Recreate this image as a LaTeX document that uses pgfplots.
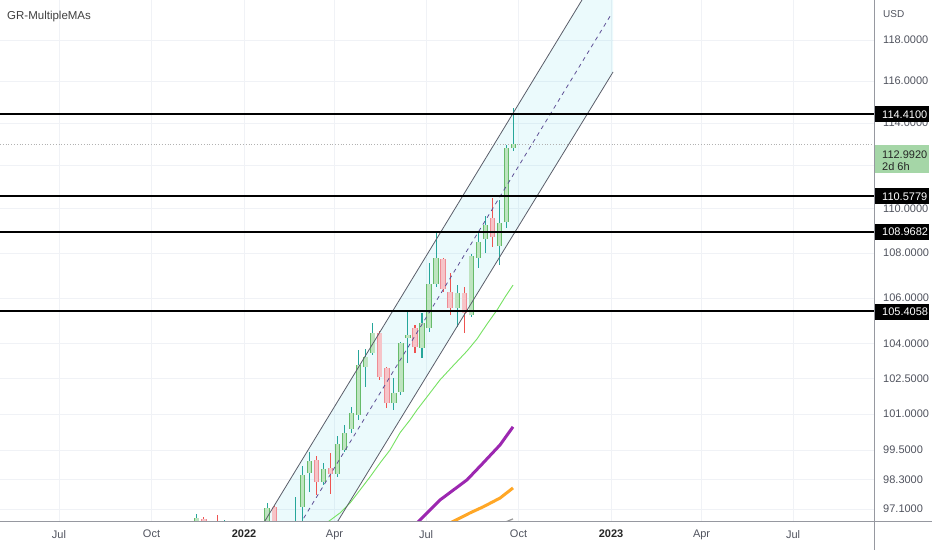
\documentclass[border=0pt]{standalone}
\usepackage{fontspec}
\setmainfont{Liberation Sans}
\usepackage{pgfplots}
\usepackage{pgfplotstable}
\pgfplotsset{compat=1.18}
\definecolor{upfill}{RGB}{190,228,192}
\definecolor{upline}{RGB}{102,187,106}
\definecolor{upwick}{RGB}{38,166,154}
\definecolor{dnfill}{RGB}{246,196,200}
\definecolor{dnline}{RGB}{239,140,148}
\definecolor{dnwick}{RGB}{239,83,80}
\definecolor{chfill}{RGB}{0,200,225}
\definecolor{chline}{RGB}{90,93,105}
\definecolor{chmid}{RGB}{95,80,150}
\definecolor{maG}{RGB}{118,226,98}
\definecolor{maP}{RGB}{156,39,176}
\definecolor{maO}{RGB}{255,167,38}
\definecolor{maGray}{RGB}{150,150,150}
\definecolor{gridc}{RGB}{240,242,246}
\definecolor{txt}{RGB}{80,83,94}
\definecolor{pricegreen}{RGB}{165,214,167}
\definecolor{sep}{RGB}{150,152,160}

% weekly candles: d = days since 2021-07-01
\pgfplotstableread{
d o h l c
137 96.55 96.90 96.40 96.74
165 96.45 96.66 96.30 96.62
179 96.00 96.30 95.80 96.20
193 95.90 96.40 95.70 96.30
207 96.50 97.36 96.30 97.14
235 95.80 97.58 95.70 96.50
242 97.18 98.85 96.58 98.48
249 98.56 99.43 97.79 99.06
263 98.19 98.97 98.07 98.73
277 98.52 100.09 98.40 99.76
284 99.51 100.55 99.43 100.22
291 100.38 101.30 100.22 101.05
298 100.97 103.73 100.76 103.09
305 103.00 103.78 102.15 103.43
312 103.60 104.90 103.52 104.47
333 101.47 102.53 101.18 101.90
340 101.94 104.08 101.81 104.04
347 104.25 105.47 103.17 104.38
361 103.82 105.34 103.39 104.90
368 104.69 107.55 104.51 106.62
375 106.62 108.95 106.49 107.78
396 105.56 106.57 104.73 106.22
410 105.25 107.95 105.17 107.87
417 107.78 108.95 107.33 108.50
424 108.63 109.68 108.00 109.27
438 108.32 110.41 107.46 109.36
445 109.40 112.96 109.13 112.82
452 112.82 114.71 112.68 112.99
}\up

\pgfplotstableread{
d o h l c
144 96.70 96.76 96.50 96.58
151 96.58 96.60 96.30 96.45
158 96.60 96.86 96.30 96.40
172 96.50 96.55 96.10 96.30
186 96.20 96.35 95.80 95.90
200 96.30 96.45 96.00 96.20
214 97.18 97.20 96.30 96.50
221 96.50 96.55 95.90 96.00
228 96.00 96.10 95.60 95.80
256 99.10 99.26 97.67 98.19
270 98.77 99.39 97.71 98.52
319 104.47 104.56 102.45 102.57
326 102.96 103.00 101.26 101.47
354 104.69 104.82 103.60 103.86
382 107.73 107.78 106.26 106.40
389 106.26 107.11 105.25 105.56
403 106.22 106.49 104.47 105.34
431 109.58 110.50 108.27 108.72
}\dn

\begin{document}
\begin{tikzpicture}
\fill[white] (0,0) rectangle (932bp,550bp);
\path[use as bounding box] (0,0) rectangle (932bp,550bp);
\begin{axis}[
  at={(0,29bp)}, anchor=south west,
  scale only axis, width=874bp, height=521bp,
  xmin=-58.7, xmax=810.5,
  ymode=log, ymin=96.62, ymax=119.98,
  axis line style={draw=none},
  major tick length=0pt,
  xmajorgrids, ymajorgrids,
  grid style={draw=gridc, line width=0.8bp},
  xtick={0,92,184,274,365,457,549,639,730},
  xticklabels={Jul,Oct,{\color{black!85}\textbf{2022}},Apr,Jul,Oct,{\color{black!85}\textbf{2023}},Apr,Jul},
  xticklabel style={anchor=north, inner sep=0pt, yshift=-9bp, text=txt, font=\fontsize{11bp}{13bp}\selectfont},
  ytick={97.1,98.3,99.5,101,102.5,104,106,108,110,112,114,116,118},
  yticklabels={97.1000,98.3000,99.5000,101.0000,102.5000,104.0000,106.0000,108.0000,110.0000,112.0000,114.0000,116.0000,118.0000},
  yticklabel pos=right,
  yticklabel style={anchor=west, inner sep=0pt, xshift=9bp, text=txt, font=\fontsize{11bp}{13bp}\selectfont},
  clip=true,
]
% channel fill
\addplot[fill=chfill, fill opacity=0.08, draw=none, forget plot]
  coordinates {(200,96.30) (551,122.55) (551,116.44) (270,96.13)};
% moving averages
\addplot[maG, line width=0.9bp] coordinates {
(264.5,96.49) (279.5,96.94) (289.4,97.34) (299.4,97.87) (309.3,98.40) (319.2,98.97)
(329.2,99.51) (339.1,100.22) (349.1,100.76) (356.0,101.18) (366.0,101.73) (378.9,102.45)
(391.8,103.05) (405.8,103.69) (415.7,104.21) (425.7,104.86) (435.6,105.47) (443.6,106.04) (451.5,106.57)};
\addplot[maP, line width=3bp] coordinates {
(354.0,96.45) (378.9,97.46) (405.8,98.28) (421.7,98.97) (438.6,99.72) (451.5,100.47)};
\addplot[maO, line width=3bp] coordinates {
(388.9,96.53) (408.8,96.94) (421.7,97.18) (438.6,97.54) (451.5,97.95)};
\addplot[maGray, line width=1.2bp] coordinates {(441.6,96.53) (451.5,96.70)};
% price line
\addplot[black!30, dotted, line width=0.8bp] coordinates {(-58.7,112.992) (810.5,112.992)};
% up candles
\addplot[draw=none, mark=none, forget plot, error bars/.cd, y dir=plus, y explicit, error mark=none,
  error bar style={draw=upwick, solid, line width=1.1bp}]
  table[x=d, y=l, y error expr={\thisrow{h}-\thisrow{l}}] {\up};
\addplot[draw=none, mark=none, forget plot, error bars/.cd, y dir=plus, y explicit, error mark=none,
  error bar style={draw=upline, solid, line width=5.4bp}]
  table[x=d, y=o, y error expr={\thisrow{c}-\thisrow{o}}] {\up};
\addplot[draw=none, mark=none, forget plot, error bars/.cd, y dir=plus, y explicit, error mark=none,
  error bar style={draw=upfill, solid, line width=3.6bp}]
  table[x=d, y=o, y error expr={\thisrow{c}-\thisrow{o}}] {\up};
% down candles
\addplot[draw=none, mark=none, forget plot, error bars/.cd, y dir=plus, y explicit, error mark=none,
  error bar style={draw=dnwick, solid, line width=1.1bp}]
  table[x=d, y=l, y error expr={\thisrow{h}-\thisrow{l}}] {\dn};
\addplot[draw=none, mark=none, forget plot, error bars/.cd, y dir=plus, y explicit, error mark=none,
  error bar style={draw=dnline, solid, line width=5.4bp}]
  table[x=d, y=c, y error expr={\thisrow{o}-\thisrow{c}}] {\dn};
\addplot[draw=none, mark=none, forget plot, error bars/.cd, y dir=plus, y explicit, error mark=none,
  error bar style={draw=dnfill, solid, line width=3.6bp}]
  table[x=d, y=c, y error expr={\thisrow{o}-\thisrow{c}}] {\dn};
% channel lines
\addplot[chline, line width=0.8bp] coordinates {(200,96.30) (551,122.55)};
\addplot[chline, line width=0.8bp] coordinates {(270,96.13) (551,116.44)};
\addplot[chmid, line width=0.8bp, dash pattern=on 4bp off 4bp] coordinates {(235,96.18) (550,119.33)};
% horizontal levels
\addplot[black, line width=2bp] coordinates {(-58.7,114.41) (810.5,114.41)};
\addplot[black, line width=2bp] coordinates {(-58.7,110.5779) (810.5,110.5779)};
\addplot[black, line width=2bp] coordinates {(-58.7,108.9682) (810.5,108.9682)};
\addplot[black, line width=2bp] coordinates {(-58.7,105.4058) (810.5,105.4058)};
\coordinate (L1) at (axis cs:810.5,114.41);
\coordinate (L2) at (axis cs:810.5,110.5779);
\coordinate (L3) at (axis cs:810.5,108.9682);
\coordinate (L4) at (axis cs:810.5,105.4058);
\coordinate (G) at (axis cs:810.5,112.992);
\end{axis}
% separators
\draw[sep, line width=0.8bp] (874bp,0) -- (874bp,550bp);
\draw[sep, line width=0.8bp] (0,29bp) -- (932bp,29bp);
% price labels
\foreach \p/\t in {L1/114.4100, L2/110.5779, L3/108.9682, L4/105.4058} {
  \fill[black] ([xshift=1bp,yshift=-8bp]\p) rectangle ++(54bp,16bp);
  \node[anchor=west, text=white, inner sep=0pt, font=\fontsize{11bp}{13bp}\selectfont] at ([xshift=8bp]\p) {\t};
}
\fill[pricegreen] ([xshift=1bp,yshift=-1bp]G) rectangle ++(54bp,-28bp);
\node[anchor=west, text=black!85, inner sep=0pt, font=\fontsize{11bp}{13bp}\selectfont] at ([xshift=8bp,yshift=-10bp]G) {112.9920};
\node[anchor=west, text=black!85, inner sep=0pt, font=\fontsize{11bp}{13bp}\selectfont] at ([xshift=8bp,yshift=-22.5bp]G) {2d 6h};
% titles
\node[anchor=west, text=black!75, inner sep=0pt, font=\fontsize{11.5bp}{14bp}\selectfont] at (7bp,533bp) {GR-MultipleMAs};
\node[anchor=west, text=txt, inner sep=0pt, font=\fontsize{10bp}{12bp}\selectfont] at (883bp,536bp) {USD};
\end{tikzpicture}
\end{document}
